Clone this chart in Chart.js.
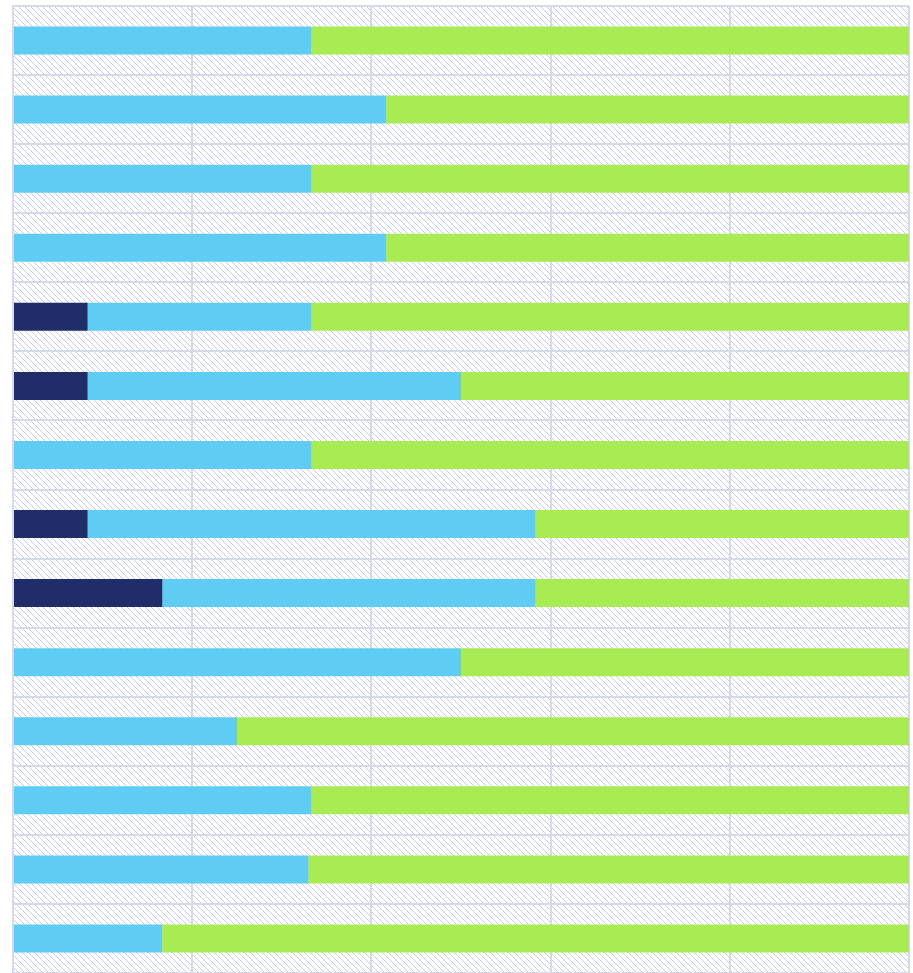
<!DOCTYPE html>
<html>
<head>
<meta charset="utf-8">
<script src="https://cdn.jsdelivr.net/npm/chart.js"></script>
<style>
  html, body { margin: 0; padding: 0; background: #fff; }
  #wrap { width: 913px; height: 973px; }
</style>
</head>
<body>
<div id="wrap"><canvas id="chart"></canvas></div>
<script>
// rows, top to bottom (labels are not shown in the picture)
const categories = ['1', '2', '3', '4', '5', '6', '7', '8', '9', '10', '11', '12', '13', '14'];

// share of each row, in percent
const navyValues  = [0, 0, 0, 0, 8.33, 8.33, 0, 8.33, 16.67, 0, 0, 0, 0, 0];
const cyanValues  = [33.33, 41.67, 33.33, 41.67, 25, 41.67, 33.33, 50, 41.67, 50, 25, 33.33, 33.0, 16.67];
const greenValues = [66.67, 58.33, 66.67, 58.33, 66.67, 50, 66.67, 41.67, 41.67, 50, 75, 66.67, 67.0, 83.33];

const xTicks = [0, 20, 40, 60, 80, 100];

// diagonal hatch used as the plot background
function makeHatch() {
    const tile = document.createElement('canvas');
    tile.width = 6;
    tile.height = 6;
    const t = tile.getContext('2d');
    t.fillStyle = '#c6c9ea';
    for (let i = 0; i < 6; i++) {
        t.fillRect(i, i, 1, 1);
    }
    return tile;
}

const hatchBackground = {
    id: 'hatchBackground',
    beforeDraw(chart) {
        const { ctx, chartArea } = chart;
        ctx.save();
        ctx.fillStyle = ctx.createPattern(makeHatch(), 'repeat');
        ctx.fillRect(chartArea.left, chartArea.top, chartArea.right - chartArea.left, chartArea.bottom - chartArea.top);
        ctx.restore();
    }
};

const barStyle = {
    barPercentage: 0.405,
    categoryPercentage: 1,
    borderWidth: 0
};

new Chart(document.getElementById('chart'), {
    type: 'bar',
    data: {
        labels: categories,
        datasets: [
            { label: 'navy', data: navyValues, backgroundColor: '#202d68', ...barStyle },
            { label: 'cyan', data: cyanValues, backgroundColor: '#5fcdf3', ...barStyle },
            { label: 'green', data: greenValues, backgroundColor: '#a8eb52', ...barStyle }
        ]
    },
    options: {
        indexAxis: 'y',
        responsive: true,
        maintainAspectRatio: false,
        animation: false,
        layout: { padding: { left: 13, top: 6, right: 4, bottom: -2 } },
        plugins: {
            legend: { display: false },
            tooltip: { enabled: false }
        },
        scales: {
            x: {
                stacked: true,
                min: 0,
                max: 100,
                afterBuildTicks(axis) {
                    axis.ticks = xTicks.map(v => ({ value: v }));
                },
                ticks: { display: false },
                grid: { color: '#d6d9ea', lineWidth: 2, drawTicks: false },
                border: { display: true, color: '#d6d9ea', width: 2 }
            },
            y: {
                stacked: true,
                ticks: { display: false },
                grid: { color: '#d6d9ea', lineWidth: 2, drawTicks: false },
                border: { display: true, color: '#d6d9ea', width: 2 }
            }
        }
    },
    plugins: [hatchBackground]
});
</script>
</body>
</html>
